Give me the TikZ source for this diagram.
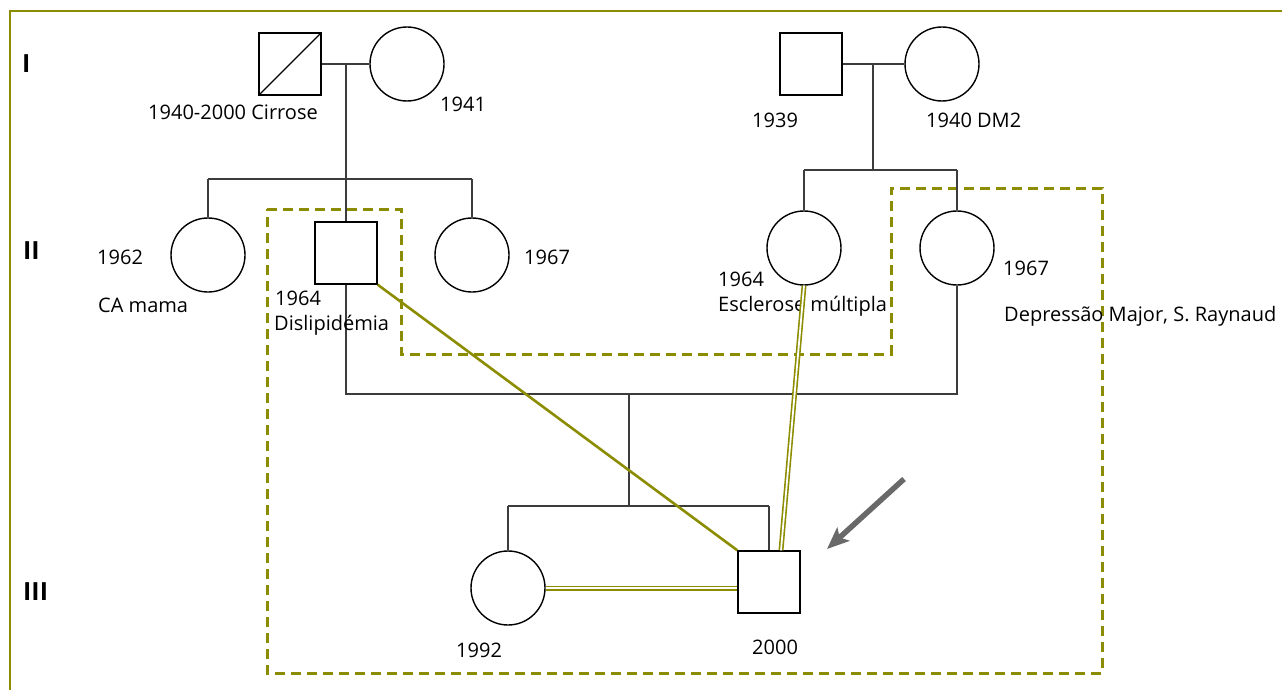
\documentclass[tikz,border=0pt]{standalone}
\usepackage{fontspec}
\setmainfont{Open Sans}
\usetikzlibrary{arrows.meta}
\definecolor{olv}{RGB}{140,140,0}
\definecolor{conn}{RGB}{60,60,60}
\definecolor{arrg}{RGB}{105,105,105}
\begin{document}
\begin{tikzpicture}[x=1pt,y=-1pt,
 male/.style={draw=black,line width=1.4pt,rectangle,minimum width=62pt,minimum height=62pt,inner sep=0pt,fill=white},
 female/.style={draw=black,line width=1.4pt,circle,minimum size=74pt,inner sep=0pt,fill=white},
 lbl/.style={anchor=base west,inner sep=0pt,font=\fontsize{20}{24}\selectfont},
 gen/.style={anchor=base west,inner sep=0pt,font=\fontsize{25}{28}\selectfont\bfseries},
 link/.style={draw=conn,line width=1.3pt},
 hl/.style={draw=olv,line width=2.6pt},
 dbl/.style={draw=olv,double=white,double distance=1.8pt,line width=1.6pt},
 grp/.style={draw=olv,line width=3pt,dash pattern=on 10pt off 6pt},
 frame/.style={draw=olv,line width=1.8pt},
 proband/.style={draw=arrg,line width=5.5pt,-{Stealth[length=22pt,width=18pt,inset=5pt]}},
]
\useasboundingbox (0,0) rectangle (1282,690);
\draw[frame] (10,690) -- (10,11) -- (1282,11);

% generation labels
\node[gen] (gI) at (22,73) {I};
\node[gen] (gII) at (23,259) {II};
\node[gen] (gIII) at (23,600) {III};

% group outline
\draw[grp] (267,209) -- (401,209) -- (401,354) -- (891,354) -- (891,188) -- (1102,188) -- (1102,673) -- (267,673) -- cycle;

% generation I
\node[male] (gfP) at (290,64) {};
\node[female] (gmP) at (407,64) {};
\node[male] (gfM) at (811,64) {};
\node[female] (gmM) at (942,64) {};
\draw[black,line width=1.3pt] (gfP.south west) -- (gfP.north east);

% generation II
\node[female] (aunt1) at (208,255) {};
\node[male] (father) at (346,253) {};
\node[female] (aunt2) at (472,255) {};
\node[female] (aunt3) at (804,248) {};
\node[female] (mother) at (957,248) {};

% generation III
\node[female] (sister) at (508,588) {};
\node[male] (prob) at (769,582) {};

% connectors
\coordinate (mP) at (346,64);
\coordinate (mM) at (873,64);
\coordinate (sPl) at (208,179);
\coordinate (sPr) at (472,179);
\coordinate (sMl) at (804,170);
\coordinate (sMr) at (957,170);
\coordinate (sMm) at (873,170);
\coordinate (cL) at (346,394);
\coordinate (cR) at (957,394);
\coordinate (cM) at (629,394);
\coordinate (kM) at (629,506);
\coordinate (kL) at (508,506);
\coordinate (kR) at (769,506);

\draw[link] (gfP.east) -- (gmP.west);
\draw[link] (mP) -- (father.north);
\draw[link] (sPl) -- (sPr);
\draw[link] (sPl) -- (aunt1.north);
\draw[link] (sPr) -- (aunt2.north);
\draw[link] (gfM.east) -- (gmM.west);
\draw[link] (mM) -- (sMm);
\draw[link] (sMl) -- (sMr);
\draw[link] (sMl) -- (aunt3.north);
\draw[link] (sMr) -- (mother.north);
\draw[link] (father.south) -- (cL) -- (cR) -- (mother.south);
\draw[link] (cM) -- (kM);
\draw[link] (kL) -- (kR);
\draw[link] (kL) -- (sister.north);
\draw[link] (kR) -- (prob.north);

% labels
\node[lbl] (tgfP) at (148,120) {1940-2000 Cirrose};
\node[lbl] (tgmP) at (440,112) {1941};
\node[lbl] (tgfM) at (752,128) {1939};
\node[lbl] (tgmM) at (926,128) {1940 DM2};
\node[lbl] (ta1a) at (97,264) {1962};
\node[lbl] (ta1b) at (98,312) {CA mama};
\node[lbl] (tfa) at (275,305) {1964};
\node[lbl] (tfb) at (274,330) {Dislipidémia};
\node[lbl] (ta2) at (524,264) {1967};
\node[lbl] (ta3a) at (718,286) {1964};
\node[lbl] (ta3b) at (718,311) {Esclerose múltipla};
\node[lbl] (tma) at (1003,275) {1967};
\node[lbl] (tmb) at (1004,321) {Depressão Major, S. Raynaud};
\node[lbl] (tsis) at (456,657) {1992};
\node[lbl] (tpro) at (752,654) {2000};

% relationship highlights
\draw[hl] (father.south east) -- (prob.north west);
\draw[dbl] (aunt3.south) -- ([xshift=12pt]prob.north);
\draw[dbl] (sister.east) -- (sister.east -| prob.west);

% proband arrow
\coordinate (pa) at (904,479);
\draw[proband] (pa) -- (827,549);
\end{tikzpicture}
\end{document}
